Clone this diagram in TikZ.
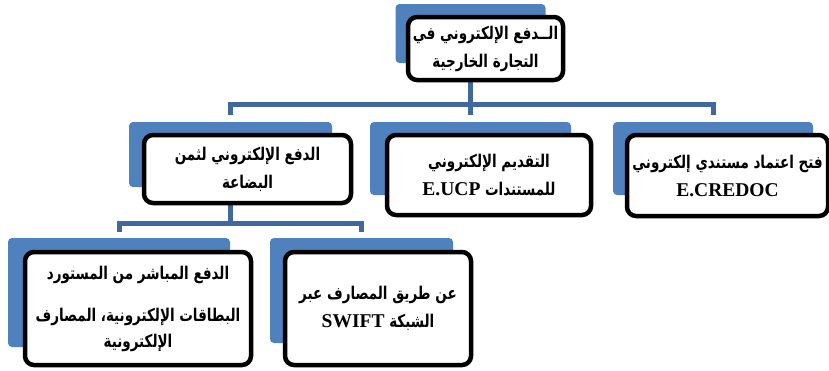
\documentclass[tikz,border=0pt]{standalone}
\usepackage{graphicx}
\usepackage{fontspec}
\setmainfont{Liberation Serif}
\newfontfamily\arabicfont[Script=Arabic]{DejaVu Sans}
\newfontfamily\latinfont{Liberation Serif}
\TeXXeTstate=1
% one right-to-left line of Arabic text, set a little taller
\newcommand\artext[1]{\scalebox{1}[1.3]{\arabicfont\bfseries\beginR #1\endR}}
% Latin lettering in the cards
\newcommand\latstyle{\latinfont\bfseries\fontsize{19.5}{22}\selectfont}
% a Latin run embedded in an Arabic line (undoes the taller Arabic scaling)
\newcommand\lat[1]{\beginL{\latstyle\scalebox{1}[0.77]{#1}}\endL}
\definecolor{boxblue}{RGB}{79,129,189}
\definecolor{linkblue}{RGB}{64,104,158}
\begin{document}
\begin{tikzpicture}[x=1pt,y=-1pt,
  shadebox/.style={fill=boxblue, draw=none, rounded corners=4pt, inner sep=0pt},
  card/.style={draw=black, line width=4.5pt, fill=white, rounded corners=9pt,
    inner sep=0pt, align=center, font=\fontsize{13.5}{28}\selectfont},
  conn/.style={draw=linkblue, line width=5pt}]
\useasboundingbox (0,0) rectangle (829,370);

% blue backing shapes
\node[shadebox, minimum width=150pt, minimum height=59pt] (bTop) at (470.5,33.5) {};
\node[shadebox, minimum width=203pt, minimum height=65pt] (bPay) at (230.5,154.5) {};
\node[shadebox, minimum width=201pt, minimum height=73pt] (bDoc) at (470.5,158.5) {};
\node[shadebox, minimum width=200pt, minimum height=73pt] (bCred) at (713,158.5) {};
\node[shadebox, minimum width=222pt, minimum height=109pt] (bDirect) at (119,292.5) {};
\node[shadebox, minimum width=183pt, minimum height=105pt] (bSwift) at (361.5,290.5) {};

% connectors
\draw[conn, shorten >=7pt] (bTop.south) -- ++(0,41) -| (bPay.north);
\draw[conn, shorten >=7pt] (bTop.south) -- ++(0,41) -| (bDoc.north);
\draw[conn, shorten >=7pt] (bTop.south) -- ++(0,41) -| (bCred.north);
\draw[conn, shorten >=6pt] (bPay.south) -- ++(0,36) -| (bDirect.north);
\draw[conn, shorten >=6pt] (bPay.south) -- ++(0,36) -| (bSwift.north);

% white cards with the text
\node[card, minimum width=155pt, minimum height=63pt] (top) at (485.5,48.5)
  {\artext{الــدفع الإلكتروني في}\\\artext{التجارة الخارجية}};
\node[card, minimum width=207pt, minimum height=68pt] (pay) at (247.5,169)
  {\artext{الدفع الإلكتروني لثمن}\\\artext{البضاعة}};
\node[card, minimum width=204pt, minimum height=80pt] (doc) at (489,175)
  {\artext{التقديم الإلكتروني}\\\artext{للمستندات \lat{E.UCP}}};
\node[card, minimum width=201pt, minimum height=81pt] (cred) at (727.5,175.5)
  {\artext{فتح اعتماد مستندي إلكتروني}\\{\latstyle E.CREDOC}};
\node[card, minimum width=226pt, minimum height=113pt] (direct) at (138,308.5)
  {\artext{الدفع المباشر من المستورد}\\[14pt]\artext{البطاقات الإلكترونية، المصارف}\\[-2pt]\artext{الإلكترونية}};
\node[card, minimum width=186pt, minimum height=113pt] (swift) at (378,308.5)
  {\artext{عن طريق المصارف عبر}\\\artext{الشبكة \lat{SWIFT}}};
\end{tikzpicture}
\end{document}
